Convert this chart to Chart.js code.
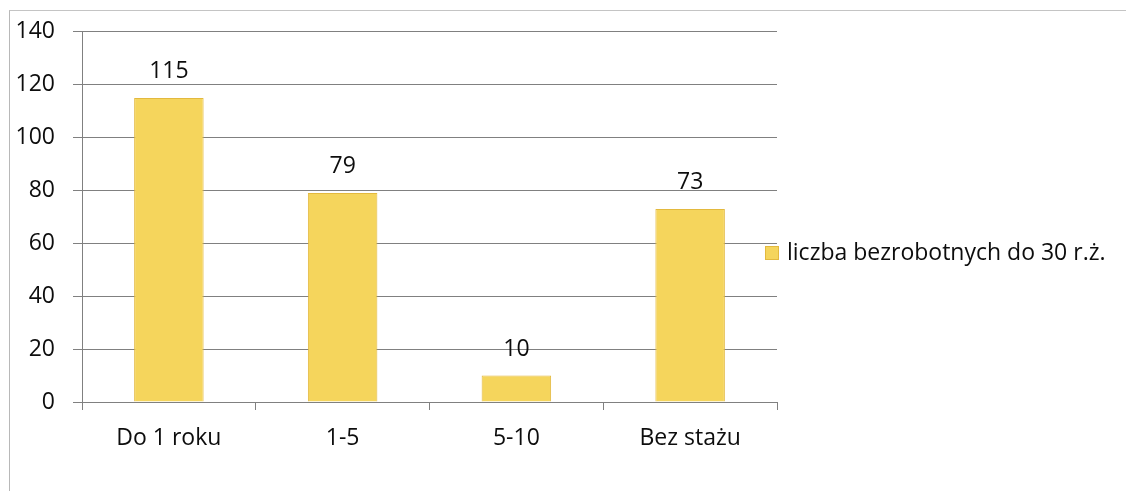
<!DOCTYPE html>
<html>
<head>
<meta charset="utf-8">
<script src="https://cdn.jsdelivr.net/npm/chart.js@4"></script>
<style>
  html, body { margin: 0; padding: 0; background: #fff; }
  #wrap { position: relative; width: 1126px; height: 495px; }
  #frame { position: absolute; left: 9px; top: 10px; right: 0; bottom: 4px;
           border-top: 1px solid #c4c4c4; border-left: 1px solid #b8b8b8; }
  canvas { position: absolute; left: 0; top: 0; }
</style>
</head>
<body>
<div id="wrap">
  <div id="frame"></div>
  <canvas id="myChart" width="1126" height="495"></canvas>
</div>
<script>
const categories = ['Do 1 roku', '1-5', '5-10', 'Bez stażu'];
const values = [115, 79, 10, 73];
const seriesName = 'liczba bezrobotnych do 30 r.ż.';
const yTicks = [0, 20, 40, 60, 80, 100, 120, 140];

const font = { family: '"Open Sans", sans-serif', size: 23 };
const barFill = '#f5d55c';
const barEdge = '#e3b93e';

// value labels above the bars
const barLabels = {
  id: 'barLabels',
  afterDatasetsDraw(chart) {
    const ctx = chart.ctx;
    const meta = chart.getDatasetMeta(0);
    ctx.save();
    ctx.font = font.size + 'px ' + font.family;
    ctx.fillStyle = '#0d0d0d';
    ctx.textAlign = 'center';
    ctx.textBaseline = 'alphabetic';
    meta.data.forEach((bar, i) => {
      ctx.fillText(values[i], bar.x, bar.y - 20);
    });
    ctx.restore();
  }
};

// Excel-style legend sitting just right of the plot, overlapping the grid ends
const sideLegend = {
  id: 'sideLegend',
  afterDraw(chart) {
    const ctx = chart.ctx;
    const x = chart.chartArea.right - 12;
    const y = 253;
    ctx.save();
    ctx.fillStyle = barFill;
    ctx.strokeStyle = barEdge;
    ctx.lineWidth = 1;
    ctx.fillRect(x, y - 7, 14, 14);
    ctx.strokeRect(x + 0.5, y - 6.5, 13, 13);
    ctx.font = font.size + 'px ' + font.family;
    ctx.fillStyle = '#0d0d0d';
    ctx.textAlign = 'left';
    ctx.textBaseline = 'middle';
    ctx.fillText(chart.data.datasets[0].label, x + 22, y);
    ctx.restore();
  }
};

const ctx = document.getElementById('myChart');

new Chart(ctx, {
  type: 'bar',
  data: {
    labels: categories,
    datasets: [{
      label: seriesName,
      data: values,
      backgroundColor: barFill,
      borderColor: barEdge,
      borderWidth: 1,
      barPercentage: 0.4,
      categoryPercentage: 1
    }]
  },
  options: {
    responsive: false,
    animation: false,
    layout: { padding: { left: 17, top: 29, right: 349, bottom: 45 } },
    plugins: {
      legend: { display: false },
      tooltip: { enabled: false }
    },
    scales: {
      x: {
        grid: { drawOnChartArea: false, drawTicks: true, tickLength: 8, color: '#808080' },
        border: { color: '#808080' },
        ticks: { font: font, color: '#0d0d0d', padding: 15 },
        afterFit(scale) { scale.height = 48; scale.paddingLeft = 0; scale.paddingRight = 0; }
      },
      y: {
        min: 0,
        max: 140,
        afterBuildTicks(scale) { scale.ticks = yTicks.map(v => ({ value: v })); },
        grid: { color: '#808080', tickLength: 9 },
        border: { color: '#808080' },
        ticks: { font: font, color: '#0d0d0d', padding: 18 },
        afterFit(scale) { scale.width = 65; }
      }
    }
  },
  plugins: [barLabels, sideLegend]
});
</script>
</body>
</html>
